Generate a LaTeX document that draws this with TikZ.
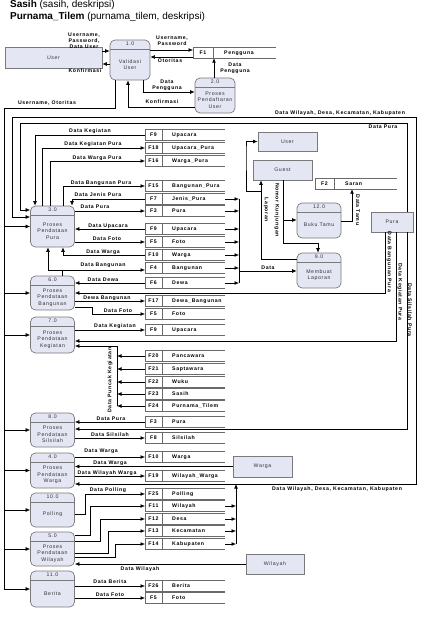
\documentclass[tikz,border=0pt]{standalone}
\usepackage{fontspec}
\setmainfont{Liberation Sans}
\newfontfamily\dfdfont{Liberation Sans}[LetterSpace=12]
\usepackage{tikz}
\usetikzlibrary{positioning, arrows.meta}

\definecolor{procfill}{HTML}{E4E6F4}
\definecolor{procline}{HTML}{7A7A7A}
\definecolor{storeline}{HTML}{6A6A6A}
\definecolor{dfdtext}{HTML}{333333}

\tikzset{
  flow/.style={-{Latex[length=4.5pt,width=3.8pt]}, line width=0.6pt},
  line/.style={line width=0.6pt},
  lbl/.style={font=\dfdfont\bfseries\fontsize{5.2}{6}\selectfont, inner sep=0pt, align=center},
  proc/.style={draw=procline, fill=procfill, rounded corners=5pt, line width=0.7pt,
    minimum width=44pt, inner sep=0pt,
    path picture={\draw[procline, line width=0.7pt]
      ([yshift=-9pt]path picture bounding box.north west) --
      ([yshift=-9pt]path picture bounding box.north east);}},
  num/.style={anchor=north, inner sep=2pt, text=dfdtext,
    font=\dfdfont\fontsize{5.2}{6}\selectfont},
  body/.style={anchor=center, yshift=-4.5pt, align=center, inner sep=0pt, text=dfdtext,
    font=\dfdfont\fontsize{5.2}{6.6}\selectfont},
  ent/.style={draw=procline, fill=procfill, line width=0.7pt, inner sep=0pt, text=dfdtext,
    font=\dfdfont\fontsize{5.2}{6}\selectfont},
  storebox/.style={minimum width=80pt, minimum height=10pt, inner sep=0pt, anchor=west},
  storeln/.style={draw=storeline, line width=1pt}
}

\begin{document}
\begin{tikzpicture}[x=1pt, y=-1pt]
\useasboundingbox (0,0) rectangle (421,620);

% title
\node[anchor=base west, font=\fontsize{10}{12}\selectfont, inner sep=0pt] (t1) at (10,7.5)
  {\textbf{Sasih} (sasih, deskripsi)};
\node[anchor=base west, font=\fontsize{10}{12}\selectfont, inner sep=0pt] (t2) at (10,19.5)
  {\textbf{Purnama\_Tilem} (purnama\_tilem, deskripsi)};

% external entities
\node[ent, minimum width=97pt, minimum height=21pt] (user) at (53.5,57.5) {\itshape User};
\node[ent, minimum width=59pt, minimum height=19pt] (user2) at (287.5,141.5) {User};
\node[ent, minimum width=59pt, minimum height=20pt] (guest) at (282.5,170) {Guest};
\node[ent, minimum width=42pt, minimum height=20pt] (pura) at (392,222) {Pura};
\node[ent, minimum width=59pt, minimum height=21pt] (warga) at (262.5,466.5) {Warga};
\node[ent, minimum width=58pt, minimum height=20pt] (wilayah) at (275,564) {Wilayah};

% processes
\node[proc, minimum width=40pt, minimum height=40pt, label={[num]north:1.0},
  label={[body]center:{Validasi\\User}}] (p1) at (130,60) {};
\node[proc, minimum width=40pt, minimum height=35pt, label={[num]north:2.0},
  label={[body]center:{Proses\\Pendaftaran\\User}}] (p2) at (215,95.5) {};
\node[proc, minimum height=41pt, label={[num]north:3.0},
  label={[body]center:{Proses\\Pendataan\\Pura}}] (p3) at (52.5,226.5) {};
\node[proc, minimum height=34pt, label={[num]north:6.0},
  label={[body]center:{Proses\\Pendataan\\Bangunan}}] (p6) at (52.5,293) {};
\node[proc, minimum height=36pt, label={[num]north:7.0},
  label={[body]center:{Proses\\Pendataan\\Kegiatan}}] (p7) at (52.5,335) {};
\node[proc, minimum height=34pt, label={[num]north:8.0},
  label={[body]center:{Proses\\Pendataan\\Silsilah}}] (p8) at (52.5,430) {};
\node[proc, minimum height=35pt, label={[num]north:4.0},
  label={[body]center:{Proses\\Pendataan\\Warga}}] (p4) at (52.5,470.5) {};
\node[proc, minimum height=34pt, label={[num]north:10.0},
  label={[body]center:Polling}] (p10) at (52.5,510) {};
\node[proc, minimum height=34pt, label={[num]north:5.0},
  label={[body]center:{Proses\\Pendataan\\Wilayah}}] (p5) at (52.5,549) {};
\node[proc, minimum height=36pt, label={[num]north:11.0},
  label={[body]center:Berita}] (p11) at (52.5,589) {};
\node[proc, minimum height=35pt, label={[num]north:12.0},
  label={[body]center:{Buku Tamu}}] (p12) at (319,220.5) {};
\node[proc, minimum height=35pt, label={[num]north:9.0},
  label={[body]center:{Membuat\\Laporan}}] (p9) at (319,270.5) {};

% data stores
\node[storebox, minimum width=83pt] (f1) at (193,53) {};
\draw[storeln] (f1.north east) -| (f1.south west) -- (f1.south east);
\draw[storeln] ([xshift=20pt]f1.north west) -- ([xshift=20pt]f1.south west);
\node[lbl] (f1 id) at ([xshift=10pt]f1.west) {F1};
\node[lbl, anchor=west] (f1 tx) at ([xshift=31pt]f1.west) {Pengguna};

\node[storebox, minimum width=82pt] (f2) at (315,184) {};
\draw[storeln] (f2.north east) -| (f2.south west) -- (f2.south east);
\draw[storeln] ([xshift=19pt]f2.north west) -- ([xshift=19pt]f2.south west);
\node[lbl] (f2 id) at ([xshift=9.5pt]f2.west) {F2};
\node[lbl, anchor=west] (f2 tx) at ([xshift=30pt]f2.west) {Saran};

\foreach \n/\y/\id/\nm in {f9a/135/F9/Upacara, f18/148/F18/Upacara\_Pura,
  f16/161/F16/Warga\_Pura, f15/186/F15/Bangunan\_Pura, f7/199/F7/Jenis\_Pura,
  f3a/211/F3/Pura, f9b/229/F9/Upacara, f5a/242/F5/Foto, f10a/255/F10/Warga,
  f4/268/F4/Bangunan, f6/283/F6/Dewa, f17/301/F17/Dewa\_Bangunan, f5b/314/F5/Foto,
  f9c/330/F9/Upacara, f20/356/F20/Pancawara, f21/369/F21/Saptawara, f22/382/F22/Wuku,
  f23/394/F23/Sasih, f24/406/F24/Purnama\_Tilem, f3b/422/F3/Pura, f8/438/F8/Silsilah,
  f10b/457/F10/Warga, f19/476/F19/Wilayah\_Warga, f25/494/F25/Polling,
  f11/506/F11/Wilayah, f12/519/F12/Desa, f13/531/F13/Kecamatan, f14/544/F14/Kabupaten,
  f26/586/F26/Berita, f5c/598/F5/Foto}{
  \node[storebox] (\n) at (145,\y) {};
  \draw[storeln] (\n.north east) -| (\n.south west) -- (\n.south east);
  \draw[storeln] ([xshift=17pt]\n.north west) -- ([xshift=17pt]\n.south west);
  \node[lbl] (\n id) at ([xshift=8.5pt]\n.west) {\id};
  \node[lbl, anchor=west] (\n tx) at ([xshift=27pt]\n.west) {\nm};
}

% login
\draw[flow] (user.east |- 0,51) -- (p1.west |- 0,51);
\draw[flow] (p1.west |- 0,64) -- (user.east |- 0,64);
\draw[flow] (p1.east |- 0,50) -- (f1.west |- 0,50);
\draw[flow] (f1.west |- 0,57) -- (p1.east |- 0,57);
\draw[flow] (p1.south -| 143,0) |- (p2.west |- 0,92);
\draw[flow] (p2.west |- 0,107) -| (p1.south -| 128,0);
\draw[flow] (p2.north -| 214,0) -- (f1.south -| 214,0);
\node[lbl] (l1) at (84,41) {Username,\\Password,\\Data User};
\node[lbl] (l2) at (85,71) {Konfirmasi};
\node[lbl] (l3) at (172,41) {Username,\\Password};
\node[lbl] (l4) at (170,61) {Otoritas};
\node[lbl] (l5) at (167,85) {Data\\Pengguna};
\node[lbl] (l6) at (162,102) {Konfirmasi};
\node[lbl] (l7) at (235,68) {Data\\Pengguna};

% username bus
\coordinate (ubus) at (4,108);
\draw[line] (p1.south -| 115,0) |- (ubus) -- (ubus |- p11.west);
\foreach \p in {p3,p6,p7,p8,p4,p10,p5,p11}
  \draw[flow] (ubus |- \p.west) -- (\p.west);
\node[lbl] (l8) at (47,103) {Username, Otoritas};

% wilayah loop
\coordinate (wbus) at (236,484);
\foreach \s in {f11,f12,f13,f14}
  \draw[flow] (\s.east) -- (wbus |- \s.east);
\draw[flow] (wbus |- f14.east) -- (wbus);
\draw[flow] (wbus) -| (416,117) -| (12,217) -- (p3.west |- 0,217);
\draw[flow] (416,484) -- (p4.east |- 0,484);
\node[lbl] (l9) at (340,113) {Data Wilayah, Desa, Kecamatan, Kabupaten};
\node[lbl] (l10) at (337,489) {Data Wilayah, Desa, Kecamatan, Kabupaten};

% pura
\draw[flow] (pura.north -| 407,0) |- (20,123) |- (p3.west |- 0,210);
\draw[flow] (pura.south -| 385,0) |- (p6.east);
\draw[flow] (pura.south -| 396,0) |- (p7.east |- 0,341);
\draw[flow] (pura.south -| 407,0) |- (p8.east |- 0,429);
\node[lbl] (l11) at (383,127) {Data Pura};
\node[lbl, rotate=-90] (l12) at (389,262) {Data Bangunan Pura};
\node[lbl, rotate=-90] (l13) at (400,292) {Data Kegiatan Pura};
\node[lbl, rotate=-90] (l14) at (410,310) {Data Silsilah Pura};

% 3.0
\draw[flow] (f9a.west) -| (p3.north -| 35,0);
\draw[flow] (p3.north -| 42,0) |- (f18.west);
\draw[flow] (p3.north -| 50,0) |- (f16.west);
\draw[flow] (p3.north -| 63,0) |- (f15.west);
\draw[flow] (f7.west) -| (p3.north -| 72,0);
\draw[flow] (p3.east |- f3a.west) -- (f3a.west);
\draw[flow] (f9b.west) -- (p3.east |- f9b.west);
\draw[flow] (p3.east |- f5a.west) -- (f5a.west);
\draw[flow] (f10a.west) -| (p3.south -| 63,0);
\node[lbl] (l15) at (90,131) {Data Kegiatan};
\node[lbl] (l16) at (93,144) {Data Kegiatan Pura};
\node[lbl] (l17) at (97,158) {Data Warga Pura};
\node[lbl] (l18) at (101,183) {Data Bangunan Pura};
\node[lbl] (l19) at (98,195) {Data Jenis Pura};
\node[lbl] (l20) at (95,207) {Data Pura};
\node[lbl] (l21) at (108,226) {Data Upacara};
\node[lbl] (l22) at (107,239) {Data Foto};
\node[lbl] (l23) at (103,252) {Data Warga};

% 6.0
\coordinate (bj) at (62,270);
\draw[line] (p6.north -| bj) -- (bj);
\draw[flow] (bj) -- (f4.west |- bj);
\draw[flow] (bj) -| (p3.south -| 48,0);
\draw[flow] (f6.west) -- (p6.east |- f6.west);
\draw[flow] (p6.east |- f17.west) -- (f17.west);
\draw[flow] (p6.east |- 0,307) -| (92,314) -- (f5b.west);
\node[lbl] (l24) at (103,265) {Data Bangunan};
\node[lbl] (l25) at (103,280) {Data Dewa};
\node[lbl] (l26) at (107,298) {Dewa Bangunan};
\node[lbl] (l27) at (118,311) {Data Foto};

% 7.0
\coordinate (kbus) at (117,346);
\draw[flow] (p7.east |- f9c.west) -- (f9c.west);
\foreach \s in {f20,f21,f22,f23,f24}
  \draw[flow] (\s.west) -- (kbus |- \s.west);
\draw[flow] (kbus |- f24.west) -- (kbus) -- (p7.east |- kbus);
\node[lbl] (l28) at (115,326) {Data Kegiatan};
\node[lbl, rotate=90] (l29) at (110,380) {Data Puncak Kegiatan};

% 8.0
\draw[flow] (f3b.west) -- (p8.east |- f3b.west);
\draw[flow] (p8.east |- f8.west) -- (f8.west);
\node[lbl] (l30) at (111,419) {Data Pura};
\node[lbl] (l31) at (110,435) {Data Silsilah};

% 4.0
\draw[flow] (p4.east |- f10b.west) -- (f10b.west);
\draw[flow] (warga.west) -- (p4.east |- warga.west);
\draw[flow] (p4.east |- f19.west) -- (f19.west);
\node[lbl] (l32) at (101,451) {Data Warga};
\node[lbl] (l33) at (110,463) {Data Warga};
\node[lbl] (l34) at (107,473) {Data Wilayah Warga};

% 10.0
\draw[flow] (p10.east |- 0,514) -| (85,494) -- (f25.west);
\node[lbl] (l35) at (108,490) {Data Polling};

% 5.0
\draw[flow] (p5.east |- 0,535) -| (90,506) -- (f11.west);
\draw[flow] (p5.east |- 0,541) -| (100,519) -- (f12.west);
\draw[flow] (p5.east |- 0,553) -| (108,531) -- (f13.west);
\draw[flow] (p5.east |- 0,557) -| (115,544) -- (f14.west);
\draw[flow] (wilayah.west) -- (p5.east |- wilayah.west);
\node[lbl] (l36) at (140,569) {Data Wilayah};

% 11.0
\draw[flow] (p11.east |- f26.west) -- (f26.west);
\draw[flow] (p11.east |- f5c.west) -- (f5c.west);
\node[lbl] (l37) at (110,582) {Data Berita};
\node[lbl] (l38) at (110,595) {Data Foto};

% guest, buku tamu, laporan
\coordinate (dbus) at (239,199);
\foreach \s in {f7,f3a,f9b,f5a,f10a,f4,f6}
  \draw[flow] (\s.east) -- (dbus |- \s.east);
\draw[line] (dbus) -- (dbus |- f6.east);
\draw[flow] (dbus |- 0,271) -- (p9.west |- 0,271);
\draw[flow] (guest.south -| 283,0) |- (p12.west |- 0,220);
\draw[flow] (guest.south -| 283,0) |- (318,243) -- (p9.north -| 318,0);
\draw[flow] (p9.west |- 0,259) -| (guest.south -| 261,0);
\draw[flow] (261,191) -| (246,150) |- (user2.west);
\draw[flow] (p12.east |- 0,221) -| (f2.south -| 352,0);
\node[lbl] (l39) at (268,268) {Data};
\node[lbl, rotate=-90] (l40) at (277,210) {Nomor Kunjungan};
\node[lbl, rotate=-90] (l41) at (266,210) {Laporan};
\node[lbl, rotate=-90] (l42) at (358,210) {Data Tamu};
\end{tikzpicture}
\end{document}
